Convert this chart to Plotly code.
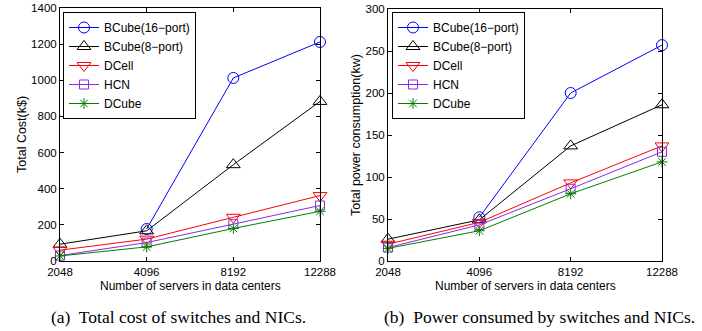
import plotly.graph_objects as go

servers = ["2048", "4096", "8192", "12288"]
xpos = [0, 1, 2, 3]

names = ["BCube(16\u2212port)", "BCube(8\u2212port)", "DCell", "HCN", "DCube"]
colors = ["#0000ff", "#000000", "#ff0000", "#8a2be2", "#008000"]
symbols = ["circle-open", "triangle-up-open", "triangle-down-open", "square-open", "asterisk-open"]
sizes = [11, 12, 12, 9, 9]

cost_bcube16 = [None, 177, 1013, 1212]
cost_bcube8 = [93, 167, 533, 883]
cost_dcell = [60, 121, 242, 362]
cost_hcn = [30, 102, 204, 307]
cost_dcube = [28, 78, 180, 275]

power_bcube16 = [None, 52, 200, 257]
power_bcube8 = [26, 49, 137, 186]
power_dcell = [20, 46, 93, 137]
power_hcn = [16, 43, 86, 130]
power_dcube = [15, 36, 80, 118]

cost = [cost_bcube16, cost_bcube8, cost_dcell, cost_hcn, cost_dcube]
power = [power_bcube16, power_bcube8, power_dcell, power_hcn, power_dcube]

fig = go.Figure()
for i in range(5):
    fig.add_trace(go.Scatter(x=xpos, y=cost[i], name=names[i], mode="lines+markers",
                             line=dict(color=colors[i], width=1),
                             marker=dict(symbol=symbols[i], size=sizes[i], color=colors[i], line=dict(width=1, color=colors[i])),
                             xaxis="x", yaxis="y", legend="legend", cliponaxis=False))
for i in range(5):
    fig.add_trace(go.Scatter(x=xpos, y=power[i], name=names[i], mode="lines+markers",
                             line=dict(color=colors[i], width=1),
                             marker=dict(symbol=symbols[i], size=sizes[i], color=colors[i], line=dict(width=1, color=colors[i])),
                             xaxis="x2", yaxis="y2", legend="legend2", cliponaxis=False))

W, H = 702, 331
def px(x): return x / W
def py(y): return 1 - y / H

font = "Liberation Sans, Arial, sans-serif"
serif = "Liberation Serif, Times New Roman, serif"
axcommon = dict(showline=True, linecolor="black", linewidth=1, mirror="ticks", ticks="inside",
                ticklen=4, tickcolor="black", showgrid=False, zeroline=False, automargin=False,
                tickfont=dict(family=font, size=11.5, color="black"))

def ann(text, x, y, size=12, fam=font, angle=0):
    return dict(text=text, x=px(x), y=py(y), xref="paper", yref="paper", xanchor="center", yanchor="middle",
                showarrow=False, textangle=angle, font=dict(family=fam, size=size, color="black"))

fig.update_layout(
    width=W, height=H, margin=dict(l=0, r=0, t=0, b=0, autoexpand=False),
    plot_bgcolor="white", paper_bgcolor="white",
    xaxis=dict(domain=[px(60), px(320)], anchor="y", range=[0, 3], tickvals=xpos, ticktext=servers, **axcommon),
    yaxis=dict(domain=[py(261), py(8)], anchor="x", range=[0, 1400], dtick=200, **axcommon),
    xaxis2=dict(domain=[px(388), px(662)], anchor="y2", range=[0, 3], tickvals=xpos, ticktext=servers, **axcommon),
    yaxis2=dict(domain=[py(261), py(9)], anchor="x2", range=[0, 300], dtick=50, **axcommon),
    legend=dict(x=px(63), y=py(12), xanchor="left", yanchor="top", bgcolor="white",
                bordercolor="black", borderwidth=1, font=dict(family=font, size=12, color="black"),
                tracegroupgap=0, itemwidth=30),
    legend2=dict(x=px(392), y=py(12), xanchor="left", yanchor="top", bgcolor="white",
                 bordercolor="black", borderwidth=1, font=dict(family=font, size=12, color="black"),
                 tracegroupgap=0, itemwidth=30),
    annotations=[
        ann("Number of servers in data centers", 190, 286),
        ann("Number of servers in data centers", 525, 286),
        ann("Total Cost(k$)", 22, 135, size=12.5, angle=-90),
        ann("Total power consumption(kw)", 356, 135, size=12.5, angle=-90),
        ann("(a)  Total cost of switches and NICs.", 178, 317, size=17.5, fam=serif),
        ann("(b)  Power consumed by switches and NICs.", 539, 317, size=17.5, fam=serif),
    ],
)

fig.write_html("out.html", config={"displayModeBar": False},
               post_script="document.body.style.margin='0';")
